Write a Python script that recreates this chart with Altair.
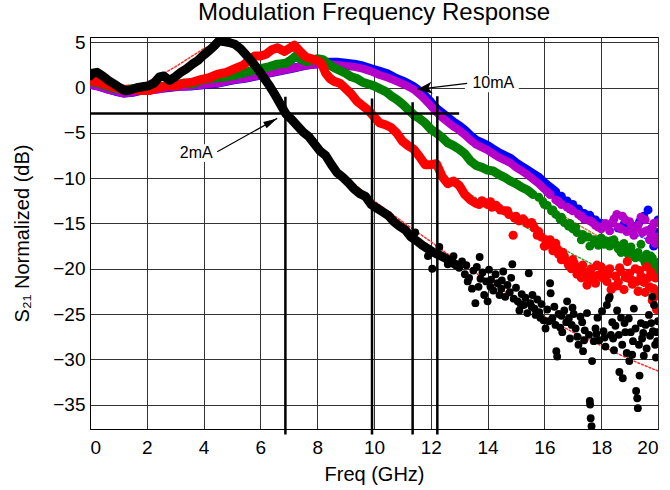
import altair as alt
import pandas as pd

# ---------------- data ----------------
title_text = "Modulation Frequency Response"
x_ticks = [0, 2, 4, 6, 8, 10, 12, 14, 16, 18, 20]
y_ticks = [-35, -30, -25, -20, -15, -10, -5, 0, 5]

# 2 mA (black) - smooth part
black_f = [0.0, 0.1, 0.25, 0.45, 0.65, 0.85, 1.05, 1.25, 1.45, 1.65, 1.85, 2.05, 2.25, 2.45, 2.6, 2.8,
           3.0, 3.2, 3.4, 3.6, 3.8, 4.0, 4.2, 4.4, 4.55, 4.7, 4.9, 5.1, 5.3, 5.5, 5.7, 5.9, 6.1, 6.3,
           6.5, 6.7, 6.9, 7.1, 7.3, 7.5, 7.7, 7.9, 8.1, 8.3, 8.5, 8.7, 8.9, 9.1, 9.3, 9.5, 9.7, 9.9,
           10.1, 10.3, 10.5, 10.7, 10.9, 11.1, 11.3, 11.5, 11.7, 11.9, 12.1, 12.3, 12.5, 12.7, 12.9]
black_db = [1.3, 1.6, 1.7, 1.3, 0.8, 0.4, 0.0, -0.35, -0.2, 0.0, 0.1, 0.2, 0.5, 1.2, 1.3, 0.8,
            1.2, 1.7, 2.1, 2.6, 3.0, 3.6, 4.1, 4.7, 5.2, 5.1, 5.0, 4.8, 4.3, 3.6, 2.9, 2.1, 1.2, 0.3,
            -0.7, -1.8, -2.9, -3.5, -4.2, -4.9, -5.4, -6.2, -7.0, -7.5, -8.5, -9.4, -9.9, -10.5, -11.2,
            -11.7, -12.0, -12.9, -13.3, -13.7, -14.1, -14.8, -15.3, -15.7, -16.5, -16.9, -17.4, -17.8,
            -18.2, -18.5, -18.8, -19.2, -19.6]
# 2 mA (black) - noisy part
black_nf = [11.45, 11.9, 12.05, 12.3, 12.6, 12.8,
            13.0, 13.1, 13.2, 13.25, 13.35, 13.45, 13.5, 13.57, 13.62, 13.72, 13.75, 13.82, 13.88, 13.95,
            14.0, 14.05, 14.12, 14.2, 14.28, 14.35, 14.42, 14.5, 14.55, 14.62, 14.7, 14.78, 14.87, 14.92,
            15.0, 15.06, 15.12, 15.2, 15.27, 15.33, 15.4, 15.45, 15.5, 15.58, 15.65, 15.69, 15.75, 15.82,
            15.9, 15.97, 16.04, 16.1, 16.2, 16.22, 16.28, 16.35, 16.39, 16.42, 16.45, 16.5, 16.56, 16.63,
            16.7, 16.77, 16.8, 16.86, 16.9, 16.96, 17.03, 17.1, 17.16, 17.2, 17.27, 17.33, 17.36, 17.42,
            17.5, 17.57, 17.6, 17.61, 17.63, 17.66, 17.68, 17.74, 17.8, 17.87, 17.93, 18.03, 18.08, 18.15,
            18.2, 18.27, 18.3, 18.34, 18.39, 18.45, 18.5, 18.56, 18.62, 18.64, 18.7, 18.74, 18.76, 18.82,
            18.9, 18.97, 18.99, 19.04, 19.09, 19.15, 19.21, 19.23, 19.27, 19.29, 19.33, 19.35, 19.4, 19.44,
            19.5, 19.56, 19.6, 19.68, 19.72, 19.8, 19.82, 19.86, 19.9, 19.93, 19.97, 20.0,
            13.3, 13.68, 14.1, 14.48, 14.83, 15.16, 15.55, 15.86, 16.15, 16.6, 16.99, 17.4, 17.83, 18.12,
            18.42, 18.85, 19.12, 19.48, 19.76, 19.95]
black_ndb = [-16.0, -18.6, -20.0, -17.6, -19.5, -18.6,
             -19.9, -19.2, -20.6, -19.6, -21.0, -22.2, -20.2, -23.8, -19.8, -18.7, -21.1, -20.4, -22.9, -21.4,
             -23.6, -20.1, -21.2, -22.4, -20.6, -21.6, -22.9, -21.3, -20.3, -23.1, -21.8, -22.6, -19.5, -23.3,
             -22.1, -23.6, -24.6, -22.8, -24.0, -23.2, -24.9, -20.5, -23.8, -22.9, -24.4, -25.1, -23.4, -24.8,
             -23.9, -25.7, -26.6, -24.5, -21.6, -22.7, -25.5, -24.2, -26.2, -29.1, -29.7, -25.0, -26.5, -27.0,
             -24.6, -25.9, -23.6, -25.5, -27.7, -26.2, -25.0, -26.6, -27.5, -28.4, -25.3, -25.9, -29.1, -26.8,
             -24.9, -27.3, -34.6, -35.0, -36.5, -37.4, -30.2, -28.0, -26.6, -25.4, -27.9, -24.7, -26.9, -28.6,
             -24.0, -23.3, -23.1, -27.3, -25.9, -29.0, -26.3, -24.6, -27.3, -31.4, -25.4, -28.4, -32.1, -26.0,
             -29.3, -25.5, -30.2, -27.0, -29.5, -24.4, -26.6, -33.5, -34.3, -35.4, -28.4, -31.8, -26.0, -27.7,
             -29.6, -26.2, -28.8, -25.1, -27.4, -23.1, -26.9, -24.0, -28.4, -29.8, -28.0, -25.8,
             -21.4, -22.0, -22.0, -22.2, -21.0, -23.9, -24.2, -25.4, -25.8, -25.2, -24.3, -27.9, -27.2, -27.6,
             -27.7, -27.0, -28.0, -27.1, -26.0, -27.0]

# red - smooth part
red_f = [0.0, 0.3, 0.6, 0.9, 1.2, 1.5, 1.8, 2.1, 2.4, 2.7, 3.0, 3.3, 3.6, 3.9, 4.2, 4.5, 4.8, 5.1, 5.4,
         5.6, 5.8, 6.0, 6.2, 6.4, 6.6, 6.85, 7.0, 7.2, 7.4, 7.6, 7.8, 8.0, 8.15, 8.3, 8.45, 8.6, 8.8,
         9.0, 9.2, 9.4, 9.6, 9.8, 10.0, 10.2, 10.4, 10.6, 10.8, 11.0, 11.2, 11.4, 11.6, 11.8, 12.0,
         12.2, 12.4, 12.6, 12.8, 13.0, 13.2, 13.4, 13.6]
red_db = [0.8, 0.6, 0.3, 0.0, -0.2, -0.2, -0.3, -0.3, 0.0, 0.2, 0.2, 0.5, 0.6, 0.9, 1.1, 1.5, 1.7,
          2.1, 2.5, 3.0, 3.5, 3.5, 3.7, 4.2, 4.4, 4.0, 4.3, 4.7, 4.0, 3.4, 3.2, 3.0, 2.7, 1.6, 1.0,
          0.7, 0.5, -0.1, -0.7, -1.5, -2.0, -2.5, -3.2, -3.9, -4.1, -4.4, -5.0, -5.9, -6.4, -6.8,
          -7.6, -8.5, -8.5, -8.4, -9.8, -10.6, -10.3, -10.8, -11.8, -12.4, -12.8]
red_nf = [13.8, 14.0, 14.15, 14.3, 14.45, 14.6, 14.75, 14.9, 14.95, 15.1, 15.25, 15.4, 15.55, 15.65,
          15.8, 15.9, 16.0, 16.15, 16.3, 16.4, 16.5, 16.6, 16.7, 16.85, 16.95, 17.05, 17.15, 17.3,
          17.45, 17.55, 17.65, 17.8, 17.9, 18.0, 18.1, 18.2, 18.3, 18.4, 18.5, 18.6, 18.7, 18.8,
          18.9, 18.92, 19.0, 19.1, 19.2, 19.3, 19.4, 19.5, 19.6, 19.7, 19.8, 19.9, 19.95, 20.0,
          13.7, 13.9, 14.1, 14.4, 14.7, 15.0, 15.3, 15.6, 15.75, 16.05, 16.2, 16.45, 16.65, 16.8,
          17.0, 17.2, 17.35, 17.5, 17.7, 17.85, 18.05, 18.25, 18.35, 18.55, 18.65, 18.85, 19.05,
          19.25, 19.35, 19.55, 19.65, 19.75, 19.85, 19.97]
red_ndb = [-12.5, -12.9, -13.2, -13.0, -13.5, -13.6, -14.0, -16.3, -14.4, -14.7, -14.5, -15.0, -14.9,
           -15.5, -15.9, -16.5, -17.5, -17.3, -18.0, -17.2, -18.4, -19.0, -18.6, -19.6, -20.0, -19.4,
           -20.6, -21.0, -20.4, -21.2, -20.0, -21.6, -20.7, -19.8, -20.3, -21.4, -20.0, -22.0, -20.8,
           -21.5, -20.3, -22.3, -21.0, -19.2, -20.5, -21.7, -20.0, -22.5, -20.8, -21.5, -19.8, -22.0,
           -23.5, -21.0, -24.5, -22.8,
           -12.9, -12.7, -12.6, -13.3, -13.6, -14.2, -14.7, -15.2, -16.3, -16.8, -16.8, -17.8, -18.2,
           -19.2, -19.0, -20.0, -19.6, -21.8, -20.8, -19.6, -21.0, -20.6, -22.3, -21.9, -19.9, -20.9,
           -21.2, -21.4, -20.2, -22.6, -21.0, -20.4, -22.2, -23.0]

# green - smooth part
green_f = [0.0, 0.3, 0.6, 0.9, 1.2, 1.5, 1.8, 2.1, 2.4, 2.7, 3.0, 3.3, 3.6, 3.9, 4.2, 4.5, 4.8, 5.1,
           5.4, 5.7, 6.0, 6.3, 6.6, 6.9, 7.1, 7.25, 7.4, 7.6, 7.8, 8.0, 8.2, 8.4, 8.6, 8.8, 9.0, 9.2,
           9.4, 9.6, 9.8, 10.0, 10.2, 10.4, 10.6, 10.8, 11.0, 11.2, 11.4, 11.6, 11.8, 12.0, 12.2, 12.4,
           12.6, 12.8, 13.0, 13.2, 13.4, 13.6, 13.8, 14.0, 14.2, 14.4, 14.6, 14.8, 15.0, 15.2, 15.4, 15.6]
green_db = [0.7, 0.5, 0.2, -0.1, -0.2, -0.1, 0.0, 0.0, 0.1, 0.2, 0.3, 0.5, 0.4, 0.8, 1.0, 1.1, 1.2,
            1.4, 1.6, 1.9, 2.1, 2.3, 2.6, 2.7, 3.1, 3.5, 3.2, 2.9, 3.0, 3.2, 3.1, 2.6, 2.2, 1.9, 1.6,
            1.2, 1.0, 0.6, 0.4, 0.2, -0.1, -0.4, -0.9, -1.3, -1.8, -2.4, -3.0, -3.4, -3.9, -4.6, -5.0,
            -5.5, -6.1, -6.4, -6.8, -7.3, -8.1, -8.6, -8.8, -9.1, -9.2, -9.6, -9.9, -10.3, -10.6, -11.0,
            -11.3, -11.8]
green_nf = [15.8, 15.95, 16.1, 16.25, 16.4, 16.55, 16.7, 16.85, 17.0, 17.15, 17.3, 17.45, 17.6, 17.75,
            17.9, 18.0, 18.15, 18.3, 18.45, 18.6, 18.7, 18.8, 18.95, 19.05, 19.2, 19.3, 19.4, 19.5,
            19.6, 19.7, 19.8, 19.9, 19.95, 20.0,
            16.0, 16.3, 16.6, 16.9, 17.1, 17.35, 17.55, 17.8, 18.1, 18.35, 18.55, 18.85, 19.1, 19.35,
            19.55, 19.75, 19.85, 19.98]
green_ndb = [-12.1, -12.6, -13.0, -13.6, -14.0, -14.5, -14.9, -15.3, -15.6, -16.0, -16.8, -16.5, -17.5,
             -16.8, -17.4, -16.6, -16.9, -17.5, -16.8, -17.8, -18.2, -17.2, -18.4, -17.6, -18.8, -18.2,
             -17.3, -19.0, -18.4, -19.5, -18.8, -20.2, -21.0, -19.3,
             -12.9, -13.5, -14.3, -15.0, -15.4, -16.2, -16.5, -17.0, -17.3, -16.9, -17.4, -18.0, -18.3,
             -18.7, -19.4, -18.6, -19.8, -20.5]

# magenta - smooth part
mag_f = [0.0, 0.3, 0.6, 0.9, 1.2, 1.5, 1.8, 2.1, 2.4, 2.7, 3.0, 3.3, 3.6, 3.9, 4.2, 4.5, 4.8, 5.1, 5.4,
         5.7, 6.0, 6.3, 6.6, 6.9, 7.2, 7.5, 7.8, 8.1, 8.4, 8.7, 9.0, 9.3, 9.6, 9.9, 10.2, 10.5, 10.8,
         11.1, 11.4, 11.7, 12.0, 12.2, 12.4, 12.6, 12.8, 13.0, 13.2, 13.4, 13.6, 13.8, 14.0, 14.2, 14.4,
         14.6, 14.8, 15.0, 15.2, 15.4, 15.6, 15.8, 16.0]
mag_db = [0.3, 0.1, -0.2, -0.4, -0.65, -0.5, -0.3, -0.3, -0.2, 0.0, 0.1, 0.1, 0.2, 0.3, 0.4, 0.5, 0.7,
          0.9, 1.0, 1.2, 1.4, 1.6, 1.8, 2.0, 2.2, 2.4, 2.5, 2.6, 2.6, 2.5, 2.4, 2.3, 2.1, 1.8, 1.4, 1.1,
          0.7, 0.3, -0.2, -1.0, -2.0, -2.7, -3.3, -3.8, -4.3, -4.7, -5.2, -5.8, -6.3, -6.6, -6.9, -7.3,
          -7.7, -8.0, -8.3, -8.8, -9.2, -9.6, -10.1, -10.6, -11.2]
mag_nf = [16.2, 16.4, 16.6, 16.8, 17.0, 17.2, 17.4, 17.6, 17.8, 18.0, 18.15, 18.3, 18.45, 18.6, 18.75,
          18.9, 19.0, 19.15, 19.3, 19.45, 19.55, 19.7, 19.8, 19.9, 20.0,
          16.1, 16.5, 16.9, 17.3, 17.7, 17.9, 18.1, 18.4, 18.55, 18.7, 18.85, 19.05, 19.2, 19.4, 19.6,
          19.75, 19.85, 19.95]
mag_ndb = [-11.8, -12.4, -12.9, -13.2, -13.6, -14.0, -14.5, -14.7, -15.2, -15.6, -15.0, -15.8, -14.5,
           -15.4, -14.2, -15.9, -14.8, -16.3, -15.2, -16.0, -14.6, -16.8, -15.5, -17.2, -14.9,
           -11.5, -12.6, -13.4, -14.2, -14.9, -15.4, -15.3, -14.9, -14.0, -15.6, -14.6, -15.5, -15.6,
           -14.3, -15.8, -16.2, -15.0, -16.5]

# blue - smooth part
blue_f = [0.0, 0.3, 0.6, 0.9, 1.2, 1.5, 1.8, 2.1, 2.4, 2.7, 3.0, 3.3, 3.6, 3.9, 4.2, 4.5, 4.8, 5.1,
          5.4, 5.7, 6.0, 6.3, 6.6, 6.9, 7.2, 7.5, 7.8, 8.1, 8.4, 8.7, 9.0, 9.3, 9.6, 9.9, 10.2, 10.5,
          10.8, 11.1, 11.4, 11.7, 12.0, 12.2, 12.4, 12.6, 12.8, 13.0, 13.2, 13.4, 13.6, 13.8, 14.0,
          14.2, 14.4, 14.6, 14.8, 15.0, 15.2, 15.4, 15.6, 15.8, 16.0, 16.2, 16.4]
blue_db = [0.4, 0.2, -0.1, -0.4, -0.6, -0.5, -0.3, -0.2, -0.1, 0.0, 0.1, 0.2, 0.2, 0.3, 0.4, 0.5, 0.7,
           0.9, 1.0, 1.2, 1.4, 1.6, 1.8, 2.0, 2.2, 2.4, 2.6, 2.7, 2.8, 2.8, 2.7, 2.6, 2.4, 2.1, 1.8,
           1.5, 1.0, 0.6, 0.1, -0.6, -1.6, -2.3, -2.8, -3.3, -3.8, -4.2, -4.7, -5.3, -5.8, -6.1, -6.4,
           -6.8, -7.2, -7.5, -7.8, -8.3, -8.7, -9.1, -9.5, -9.9, -10.5, -11.0, -11.5]
blue_nf = [16.6, 16.8, 17.0, 17.2, 17.4, 17.6, 17.8, 18.0, 18.2, 18.4, 18.6, 18.8, 19.0, 19.2, 19.35,
           19.5, 19.65, 19.75, 19.85, 19.95, 20.0]
blue_ndb = [-12.0, -12.5, -12.9, -13.4, -13.9, -14.1, -14.6, -15.0, -15.3, -14.9, -15.5, -15.1, -15.7,
            -15.3, -14.8, -14.2, -13.5, -15.6, -17.5, -16.0, -14.6]

# fitted curves (thin dotted)
fit_f = [0, 1, 1.5, 2, 2.5, 3, 3.5, 4, 4.5, 5, 5.5, 6, 6.5, 7, 8, 9, 10, 11, 12, 13, 14, 15, 16, 17, 18, 19, 20]
fit_black = [1.5, 0.2, 0.0, 0.6, 1.4, 2.3, 3.3, 4.3, 5.0, 4.9, 3.8, 1.8, -0.5, -3.0, -6.8, -9.8, -12.5,
             -14.8, -17.0, -19.3, -21.3, -23.3, -25.3, -27.0, -28.5, -30.0, -31.3]
fit_red = [0.5, 0.1, 0.0, 0.0, 0.3, 0.5, 0.8, 1.2, 1.6, 2.1, 2.8, 3.4, 3.9, 4.2, 3.0, 0.0, -3.2, -5.9,
           -8.5, -11.0, -13.0, -14.8, -16.6, -18.4, -20.0, -21.5, -23.0]
fit_green = [0.5, 0.1, 0.0, 0.1, 0.2, 0.3, 0.5, 0.9, 1.1, 1.4, 1.7, 2.1, 2.5, 2.9, 3.0, 1.6, 0.2, -1.8,
             -4.5, -7.0, -9.0, -10.8, -12.8, -14.8, -16.6, -18.2, -19.8]
fit_blue = [0.3, -0.5, -0.5, -0.3, -0.1, 0.1, 0.2, 0.3, 0.5, 0.8, 1.1, 1.4, 1.7, 2.1, 2.7, 2.7, 1.8,
            0.6, -1.6, -4.2, -6.4, -8.3, -10.5, -12.8, -14.6, -16.0, -17.2]

# -3 dB markers
h3_y = -2.85
h3_x0, h3_x1 = 0, 13
v_x = [6.88, 9.93, 11.36, 12.23]
v_top = [-1.0, -1.2, -1.6, -0.95]
v_bottom = -38.3

# annotations
ann_text = ["2mA", "10mA"]
ann_tx = [3.74, 14.2]
ann_ty = [-7.25, 0.5]
ann_box_x0 = [3.05, 13.2]
ann_box_x1 = [4.45, 15.1]
ann_box_y0 = [-8.2, -0.5]
ann_box_y1 = [-6.25, 1.4]
arr_tail_x = [4.48, 13.28]
arr_tail_y = [-7.07, 0.47]
arr_tip_x = [6.59, 11.52]
arr_tip_y = [-3.39, -0.19]

# ---------------- chart ----------------
FONT = "Liberation Sans"
xscale = alt.Scale(domain=[0, 20], nice=False, zero=False)
yscale = alt.Scale(domain=[-37.7, 5.6], nice=False, zero=False)
xaxis = alt.Axis(values=x_ticks, title="Freq (GHz)", labelPadding=9, titlePadding=7, format="d")
yaxis = alt.Axis(values=y_ticks, title="S₂₁ Normalized (dB)", labelPadding=5, format="d",
                 titleX=-68, titleY=196, titleAngle=270, titleAlign="center", titleBaseline="middle")


def X(field="f"):
    return alt.X(f"{field}:Q", scale=xscale, axis=xaxis)


def Y(field="db"):
    return alt.Y(f"{field}:Q", scale=yscale, axis=yaxis)


def line_layer(fs, ds, color, width=9, dash=None):
    df = pd.DataFrame({"f": fs, "db": ds})
    kw = dict(color=color, strokeWidth=width, strokeJoin="round", strokeCap="round", clip=True)
    if dash:
        kw["strokeDash"] = dash
    return alt.Chart(df).mark_line(**kw).encode(x=X(), y=Y())


def dots_layer(fs, ds, color, size=80):
    df = pd.DataFrame({"f": fs, "db": ds})
    return alt.Chart(df).mark_circle(color=color, size=size, opacity=1, clip=True).encode(x=X(), y=Y())


layers = []
# fits (beneath)
layers.append(line_layer(fit_f, fit_blue, "#3050ff", 1.5, [2, 2]))
layers.append(line_layer(fit_f, fit_green, "#d07030", 1.5, [2, 2]))
layers.append(line_layer(fit_f, fit_red, "#30a030", 1.5, [2, 2]))
layers.append(line_layer(fit_f, fit_black, "#ff3030", 1.5, [2, 2]))
# traces
BLUE, MAG, GREEN, RED, BLACK = "#0000ff", "#b400c8", "#008000", "#ff0000", "#000000"
layers.append(line_layer(blue_f, blue_db, BLUE))
layers.append(dots_layer(blue_nf, blue_ndb, BLUE))
layers.append(line_layer(mag_f, mag_db, MAG, 8))
layers.append(dots_layer(mag_nf, mag_ndb, MAG))
layers.append(line_layer(green_f, green_db, GREEN))
layers.append(dots_layer(green_nf, green_ndb, GREEN))
layers.append(line_layer(red_f, red_db, RED))
layers.append(dots_layer(red_nf, red_ndb, RED, 85))
layers.append(line_layer(black_f, black_db, BLACK))
layers.append(dots_layer(black_nf, black_ndb, BLACK, 62))

# -3 dB horizontal rule and vertical markers
hdf = pd.DataFrame({"x0": [h3_x0], "x1": [h3_x1], "y": [h3_y]})
layers.append(alt.Chart(hdf).mark_rule(color="black", strokeWidth=2.5).encode(
    x=X("x0"), x2="x1:Q", y=Y("y")))
vdf = pd.DataFrame({"x": v_x, "y0": v_top, "y1": [v_bottom] * len(v_x)})
layers.append(alt.Chart(vdf).mark_rule(color="black", strokeWidth=2.5).encode(
    x=X("x"), y=Y("y0"), y2="y1:Q"))

# annotation boxes, arrows and labels
bdf = pd.DataFrame({"x0": ann_box_x0, "x1": ann_box_x1, "y0": ann_box_y0, "y1": ann_box_y1})
layers.append(alt.Chart(bdf).mark_rect(color="white").encode(
    x=X("x0"), x2="x1:Q", y=Y("y0"), y2="y1:Q"))
adf = pd.DataFrame({"x0": arr_tail_x, "y0": arr_tail_y, "x1": arr_tip_x, "y1": arr_tip_y})
layers.append(alt.Chart(adf).mark_rule(color="black", strokeWidth=1.2).encode(
    x=X("x0"), y=Y("y0"), x2="x1:Q", y2="y1:Q"))
head1 = pd.DataFrame({"x": [arr_tip_x[0]], "y": [arr_tip_y[0]]})
head2 = pd.DataFrame({"x": [arr_tip_x[1]], "y": [arr_tip_y[1]]})
layers.append(alt.Chart(head1).mark_point(shape="M0,0 L0.5,2 L-0.5,2 Z", filled=True, color="black",
                                          size=196, angle=61, opacity=1).encode(x=X("x"), y=Y("y")))
layers.append(alt.Chart(head2).mark_point(shape="M0,0 L0.8,2 L0,1.5 L-0.8,2 Z", filled=True,
                                          color="black", size=225, angle=263, opacity=1).encode(
    x=X("x"), y=Y("y")))
tdf = pd.DataFrame({"x": ann_tx, "y": ann_ty, "t": ann_text})
layers.append(alt.Chart(tdf).mark_text(font=FONT, fontSize=16, color="black", align="center",
                                       baseline="middle").encode(x=X("x"), y=Y("y"), text="t:N"))

# chart title, placed above the plot area
ttl = pd.DataFrame({"t": [title_text]})
layers.append(alt.Chart(ttl).mark_text(font=FONT, fontSize=24, color="black", align="center",
                                       baseline="alphabetic").encode(
    x=alt.value(284), y=alt.value(-17.5), text="t:N"))

chart = alt.layer(*layers).properties(
    width=568, height=392,
    padding={"left": 90, "top": 37, "right": 12, "bottom": 61},
    autosize=alt.AutoSizeParams(type="none"),
).configure_view(stroke="black", strokeWidth=1).configure_axis(
    grid=True, gridColor="#333333", gridWidth=1, gridOpacity=1,
    domainColor="black", domainWidth=1, ticks=False, tickSize=0,
    labelFont=FONT, labelFontSize=19, labelColor="black",
    titleFont=FONT, titleFontSize=20, titleFontWeight="normal", titleColor="black",
)

chart.save("out.html", embed_options={"renderer": "svg", "actions": False})
